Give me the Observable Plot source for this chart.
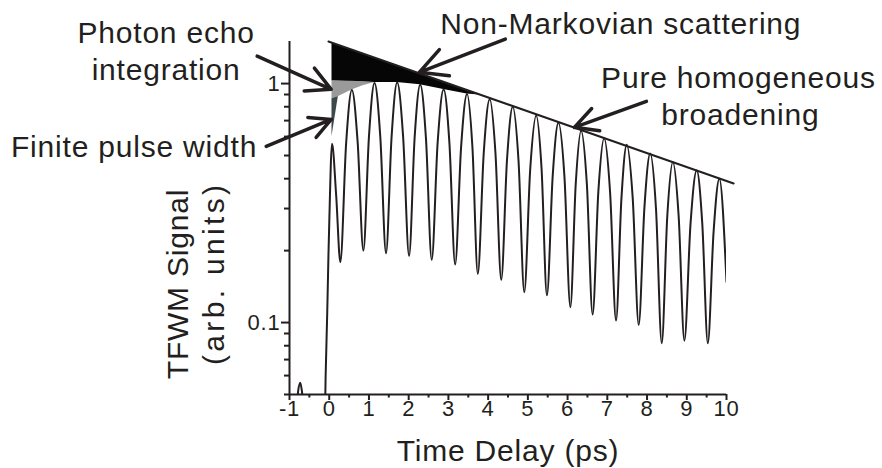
<!DOCTYPE html>
<html><head><meta charset="utf-8">
<script src="https://cdn.jsdelivr.net/npm/d3@7"></script>
<script src="https://cdn.jsdelivr.net/npm/@observablehq/plot@0.6"></script>
<style>
html,body{margin:0;padding:0;background:#fff;}
#chart svg{display:block;}
</style></head><body><div id="chart"></div>
<script>
// ---- data (time in ps, signal in arb. units) ----
const signalT = [-1.0,-0.82,-0.78,-0.73,-0.69,-0.65,-0.5,-0.2,-0.11,-0.09,-0.05,-0.02,0.01,0.04,0.07,
  0.175,0.28,0.425,0.57,0.715,0.86,1.0,1.14,1.285,1.43,1.57,1.71,1.86,2.01,2.15,2.29,2.435,2.58,2.73,2.88,
  3.025,3.17,3.32,3.47,3.605,3.74,3.89,4.04,4.185,4.33,4.475,4.62,4.765,4.91,5.06,5.21,5.345,5.48,5.625,5.77,
  5.92,6.07,6.205,6.34,6.485,6.63,6.775,6.92,7.07,7.22,7.355,7.49,7.64,7.79,7.935,8.08,8.225,8.37,8.51,8.65,
  8.795,8.94,9.095,9.25,9.39,9.53,9.675,9.82,10.0];
const signalV = [0.035,0.045,0.052,0.056,0.052,0.045,0.035,0.03,0.04,0.06,0.11,0.19,0.30,0.46,0.56,
  0.34,0.179,0.56,0.94,0.57,0.20,0.60,1.005,0.60,0.195,0.60,1.01,0.60,0.19,0.595,0.99,0.59,0.183,0.57,0.945,
  0.565,0.175,0.545,0.905,0.54,0.16,0.515,0.86,0.51,0.151,0.48,0.80,0.475,0.134,0.44,0.735,0.44,0.13,0.41,0.685,
  0.41,0.116,0.38,0.635,0.38,0.108,0.355,0.59,0.35,0.102,0.33,0.555,0.33,0.098,0.305,0.51,0.30,0.082,0.28,0.47,
  0.28,0.084,0.26,0.433,0.26,0.082,0.24,0.40,0.148];

// pure homogeneous broadening (exponential envelope)
const envelopeT = [-0.02, 10.18];
const envelopeV = [1.5, 0.382];

// Non-Markovian scattering region (black)
const blackT    = [0.07, 1.14, 1.71, 2.29, 2.88, 3.47, 3.85];
const blackLow  = [1.025, 1.01, 1.01, 0.99, 0.945, 0.905, 0.893];
const blackHigh = [1.482, 1.284, 1.190, 1.100, 1.017, 0.939, 0.893];

// Photon echo integration region (light gray)
const grayT    = [0.07, 0.25, 0.57, 0.85, 1.14];
const grayLow  = [0.865, 0.885, 0.94, 0.98, 1.01];
const grayHigh = [1.025, 1.025, 1.022, 1.018, 1.01];

// Finite pulse width region (dark)
const darkT    = [0.07, 0.23];
const darkLow  = [0.60, 0.884];
const darkHigh = [0.865, 0.884];

// ticks
const xTicks = [-1,0,1,2,3,4,5,6,7,8,9,10];
const xTickLabels = ["-1","0","1","2","3","4","5","6","7","8","9","10"];
const xMinorTicks = [-0.5,0.5,1.5,2.5,3.5,4.5,5.5,6.5,7.5,8.5,9.5];
const yTicks = [0.1, 1];
const yTickLabels = ["0.1", "1"];
const yMinorTicks = [0.05,0.06,0.07,0.08,0.09,0.2,0.3,0.4,0.5,0.6,0.7,0.8,0.9];

// annotations (anchored in data coordinates) and arrows
const annStartText = ["Non-Markovian scattering"];
const annStartT = [2.796]; const annStartV = [1.61];
const annMidText = ["Photon echo", "integration", "Pure homogeneous", "broadening"];
const annMidT = [-4.106, -4.106, 10.30, 10.35];
const annMidV = [1.48, 1.037, 0.962, 0.668];
const annEndText = ["Finite pulse width"];
const annEndT = [-1.814]; const annEndV = [0.492];

const arrowFromT = [-1.814, -1.587, 4.433, 7.985];
const arrowFromV = [1.302, 0.546, 1.534, 0.843];
const arrowToT   = [0.05, 0.05, 2.267, 6.171];
const arrowToV   = [0.9465, 0.708, 1.115, 0.656];

const ink = "#231f20";
const fs = 30;
const tfs = 22;

const chart = Plot.plot({
  width: 882, height: 468,
  marginLeft: 289, marginRight: 156, marginTop: 41, marginBottom: 74,
  style: {fontFamily: "'Liberation Sans', Arial, Helvetica, sans-serif", background: "#fff", color: ink, overflow: "visible", letterSpacing: "0.8px"},
  x: {domain: [-1, 10]},
  y: {type: "log", domain: [0.05, 1.5]},
  marks: [
    Plot.areaY(blackT, {x: blackT, y1: blackLow, y2: blackHigh, fill: "#060606"}),
    Plot.areaY(grayT, {x: grayT, y1: grayLow, y2: grayHigh, fill: "#9a9a9a"}),
    Plot.areaY(darkT, {x: darkT, y1: darkLow, y2: darkHigh, fill: "#3c4949"}),
    Plot.lineY(envelopeV, {x: envelopeT, stroke: ink, strokeWidth: 2}),
    Plot.lineY(signalV, {x: signalT, stroke: ink, strokeWidth: 2, curve: "monotone-x", clip: true}),
    Plot.ruleX([-1], {stroke: ink, strokeWidth: 2}),
    Plot.ruleY([0.05], {stroke: ink, strokeWidth: 2}),
    Plot.axisX(xTicks, {tickSize: 6, strokeWidth: 2, stroke: ink, tickFormat: () => "", label: null}),
    Plot.axisX(xMinorTicks, {tickSize: 3.5, strokeWidth: 2, stroke: ink, tickFormat: () => "", label: null}),
    Plot.axisY(yTicks, {tickSize: 8, strokeWidth: 2, stroke: ink, tickFormat: () => "", label: null}),
    Plot.axisY(yMinorTicks, {tickSize: 5, strokeWidth: 2, stroke: ink, tickFormat: () => "", label: null}),
    Plot.text(xTickLabels, {x: xTicks, frameAnchor: "bottom", dy: 6, lineAnchor: "top", textAnchor: "middle", text: d => d, fontSize: tfs, fill: ink}),
    Plot.text(yTickLabels, {y: yTicks, frameAnchor: "left", dx: -9, lineAnchor: "middle", textAnchor: "end", text: d => d, fontSize: tfs, fill: ink}),
    Plot.arrow(arrowFromT, {x1: arrowFromT, y1: arrowFromV, x2: arrowToT, y2: arrowToV, stroke: ink, strokeWidth: 3.5, headLength: 13, headAngle: 55}),
    Plot.text(annStartText, {x: annStartT, y: annStartV, text: d => d, textAnchor: "start", lineAnchor: "bottom", fontSize: fs, fill: ink}),
    Plot.text(annMidText, {x: annMidT, y: annMidV, text: d => d, textAnchor: "middle", lineAnchor: "bottom", fontSize: fs, fill: ink}),
    Plot.text(annEndText, {x: annEndT, y: annEndV, text: d => d, textAnchor: "end", lineAnchor: "bottom", fontSize: fs, fill: ink}),
    Plot.text(["Time Delay (ps)"], {frameAnchor: "bottom", dy: 66, textAnchor: "middle", lineAnchor: "bottom", text: d => d, fontSize: fs, fill: ink}),
    Plot.text(["TFWM Signal"], {frameAnchor: "left", dx: -102, dy: 66, rotate: -90, textAnchor: "middle", lineAnchor: "bottom", text: d => d, fontSize: fs, fill: ink}),
    Plot.text(["(arb. units)"], {frameAnchor: "left", dx: -66, dy: 57, rotate: -90, textAnchor: "middle", lineAnchor: "bottom", text: d => d, fontSize: fs, fill: ink})
  ]
});
d3.select(chart).selectAll("text").filter(function() { return this.textContent === "(arb. units)"; })
  .style("letter-spacing", "0px")
  .attr("textLength", 180)
  .attr("lengthAdjust", "spacing");
document.getElementById("chart").appendChild(chart);
</script></body></html>
